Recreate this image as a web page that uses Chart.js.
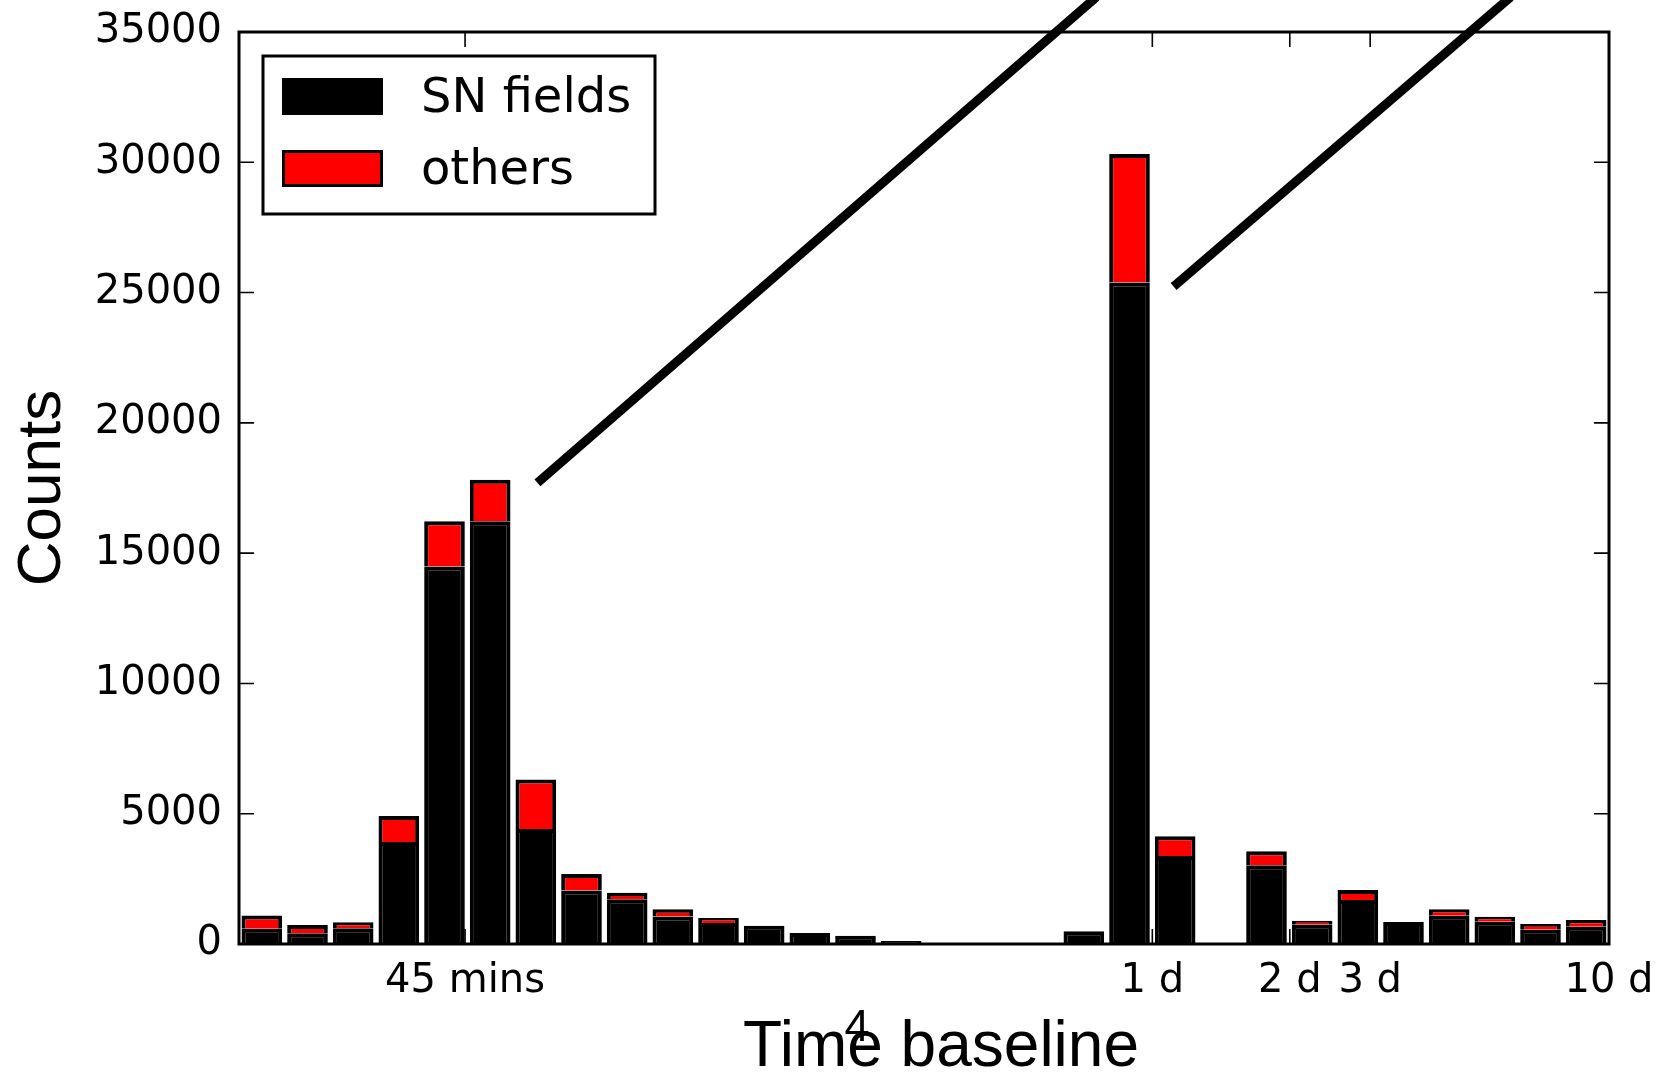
<!DOCTYPE html>
<html><head><meta charset="utf-8">
<script src="https://cdn.jsdelivr.net/npm/chart.js@4.4.0/dist/chart.umd.min.js"></script>
<style>html,body{margin:0;padding:0;background:#fff;overflow:hidden}#wrap{width:1657px;height:1074px}</style>
</head><body><div id="wrap"><canvas id="c" width="1657" height="1074"></canvas></div>
<script>
// bin centres, log10(days)
const binCenters = [-1.95,-1.85,-1.75,-1.65,-1.55,-1.45,-1.35,-1.25,-1.15,-1.05,
                    -0.95,-0.85,-0.75,-0.65,-0.55,-0.45,-0.35,-0.25,-0.15,-0.05,
                     0.05, 0.15, 0.25, 0.35, 0.45, 0.55, 0.65, 0.75, 0.85, 0.95];
const snFields = [590,410,602,3910,14490,16220,4410,2050,1715,1060,
                  810,704,420,320,115,30,30,30,486,25385,
                  3380,26,3020,740,1690,845,1088,858,550,666];
const others   = [500,320,230,1000,1730,1600,1900,640,255,270,
                  190,0,0,0,0,0,0,0,0,4935,
                  754,0,538,156,384,0,243,192,218,256];
const xTickValues = [-1.505, 0, 0.301, 0.477, 1];
const xTickLabels = ['45 mins', '1 d', '2 d', '3 d', '10 d'];
const yMax = 35000, yStep = 5000;
const line1 = [{x:-1.339, y:17808}, {x:-0.130, y:36230}];
const line2 = [{x:0.054, y:25346}, {x:0.777, y:36230}];
const xTitle = 'Time baseline';
const strayText = '4';

const frameAndLegend = {
  id: 'frameAndLegend',
  afterDatasetsDraw(chart) {
    const {ctx, chartArea: a, scales: {x, y}} = chart;
    ctx.save();
    ctx.strokeStyle = '#000';
    ctx.lineWidth = 1.6;
    ctx.beginPath();
    for (const t of y.ticks) {
      const py = y.getPixelForValue(t.value);
      ctx.moveTo(a.left, py); ctx.lineTo(a.left + 15, py);
      ctx.moveTo(a.right, py); ctx.lineTo(a.right - 15, py);
    }
    for (const v of xTickValues) {
      const px = x.getPixelForValue(v);
      ctx.moveTo(px, a.bottom); ctx.lineTo(px, a.bottom - 15);
      ctx.moveTo(px, a.top); ctx.lineTo(px, a.top + 15);
    }
    ctx.stroke();
    ctx.lineWidth = 3;
    ctx.strokeRect(a.left, a.top, a.right - a.left, a.bottom - a.top);
    ctx.restore();
  },
  afterDraw(chart) {
    const {ctx, chartArea: a} = chart;
    ctx.save();
    // legend
    const lx = a.left + 24, ly = a.top + 24, lw = 392, lh = 158;
    ctx.fillStyle = '#fff';
    ctx.fillRect(lx, ly, lw, lh);
    ctx.lineWidth = 3;
    ctx.strokeStyle = '#000';
    ctx.strokeRect(lx, ly, lw, lh);
    const items = chart.data.datasets.filter(d => d.type === 'bar');
    ctx.font = '48px "DejaVu Sans"';
    ctx.textBaseline = 'middle';
    ctx.textAlign = 'left';
    items.forEach((d, i) => {
      const cy = ly + 41 + i * 72;
      ctx.fillStyle = '#000';
      ctx.fillRect(lx + 19, cy - 19, 101, 37);
      ctx.fillStyle = d.backgroundColor;
      ctx.fillRect(lx + 22, cy - 16, 95, 31);
      ctx.fillStyle = '#000';
      ctx.fillText(d.label, lx + 158, cy + 3);
    });
    // x axis title (matplotlib placed it slightly right of the axes centre)
    ctx.font = '64px "Liberation Sans"';
    ctx.textAlign = 'center';
    ctx.textBaseline = 'alphabetic';
    ctx.fillText(xTitle, (a.left + a.right) / 2 + 17, 1066);
    // stray label near the axis title
    ctx.font = '45px "Liberation Sans"';
    ctx.fillText(strayText, 857, 1041);
    ctx.restore();
  }
};

new Chart(document.getElementById('c'), {
  data: {
    datasets: [
      {type: 'bar', label: 'SN fields', data: binCenters.map((c, i) => ({x: c, y: snFields[i]})),
       backgroundColor: '#000000', borderColor: '#000000', borderWidth: 4, stack: 'bars',
       barPercentage: 0.89, categoryPercentage: 1.0},
      {type: 'bar', label: 'others', data: binCenters.map((c, i) => ({x: c, y: others[i]})),
       backgroundColor: '#ff0000', borderColor: '#000000', borderWidth: 4, stack: 'bars',
       barPercentage: 0.89, categoryPercentage: 1.0},
      {type: 'line', label: 'l1', data: line1, borderColor: '#000', borderWidth: 9, pointRadius: 0,
       clip: false, stack: 'l1', borderCapStyle: 'square', fill: false},
      {type: 'line', label: 'l2', data: line2, borderColor: '#000', borderWidth: 9, pointRadius: 0,
       clip: false, stack: 'l2', borderCapStyle: 'square', fill: false}
    ]
  },
  options: {
    responsive: false,
    animation: false,
    layout: {padding: {left: 0, right: 48, top: 32, bottom: 0}},
    plugins: {legend: {display: false}, tooltip: {enabled: false}},
    scales: {
      x: {
        type: 'linear', min: -2, max: 1, offset: false, stacked: true,
        grid: {display: false, drawTicks: false, offset: false},
        border: {display: false},
        afterFit: s => { s.height = 130; s.paddingLeft = 0; s.paddingRight = 0; },
        afterBuildTicks: s => { s.ticks = xTickValues.map(v => ({value: v})); },
        ticks: {
          autoSkip: false, maxRotation: 0, minRotation: 0, padding: 14, color: '#000',
          font: {family: 'DejaVu Sans', size: 40},
          callback: (v, i) => xTickLabels[i]
        }
      },
      y: {
        type: 'linear', min: 0, max: yMax, stacked: true,
        grid: {display: false, drawTicks: false},
        border: {display: false},
        afterFit: s => { s.width = 239; s.paddingTop = 0; s.paddingBottom = 0; },
        ticks: {stepSize: yStep, padding: 17, color: '#000', font: {family: 'DejaVu Sans', size: 40},
                callback: v => String(v)},
        title: {display: true, text: 'Counts', color: '#000', padding: {top: 6, bottom: 0},
                font: {family: 'Liberation Sans', size: 62, lineHeight: 1.2}}
      }
    }
  },
  plugins: [frameAndLegend]
});
</script>
</body></html>
